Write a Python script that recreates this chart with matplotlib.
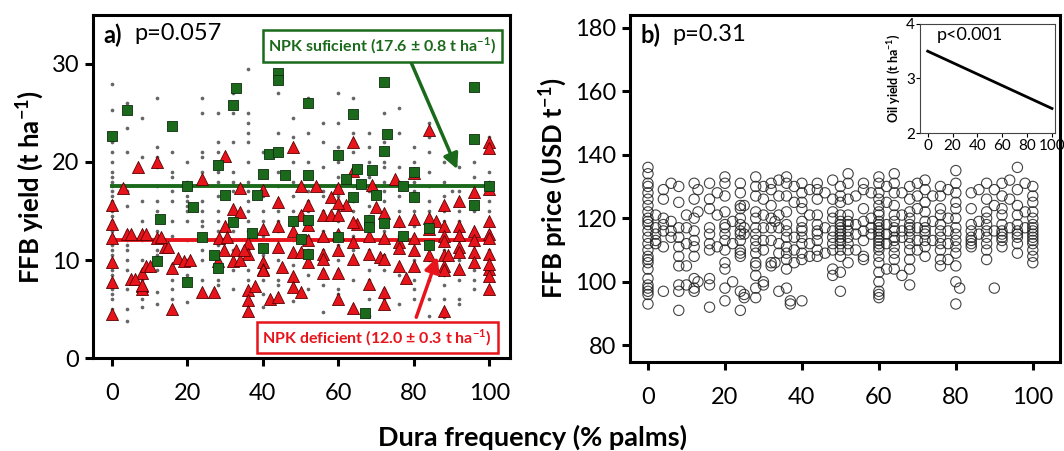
import matplotlib
matplotlib.use("Agg")
import matplotlib.pyplot as plt

plt.rcParams['font.family'] = ['Lato', 'DejaVu Sans']
plt.rcParams['axes.unicode_minus'] = False
plt.rcParams['mathtext.fontset'] = 'custom'
plt.rcParams['mathtext.rm'] = 'Lato'
plt.rcParams['mathtext.bf'] = 'Lato:bold'

# ---- panel a: FFB yield vs dura frequency ----
# NPK sufficient plots (green squares)
suf_x = [0, 4, 16, 20, 28, 33, 32, 40, 41.7, 44, 44, 44, 46, 52, 52, 60, 62, 64, 65, 66,
         69, 70, 72, 72, 73, 77, 80, 80, 96, 96, 100, 38.5, 30, 64,
         21.5, 12.7, 32, 37, 48, 52, 68, 68, 72, 77, 84, 84, 60, 50, 52, 40,
         24, 12, 27, 28, 20, 67, 96]
suf_y = [22.6, 25.3, 23.7, 17.5, 19.7, 27.5, 25.8, 18.8, 20.8, 21, 29.1, 28.4, 18.7, 26, 18.7,
         20.7, 18.3, 24.9, 19.3, 17.8, 19.2, 16.6, 21.1, 28.2, 22.9, 17.5, 19, 16.4, 27.6, 22.3,
         17.5, 16.6, 16.6, 16.4,
         15.4, 14.2, 13.9, 12.8, 14, 14.1, 14.1, 13.4, 13.8, 12.5, 13.3, 11.5, 12.3, 12.1, 10.6,
         11.2, 12.3, 9.9, 10.5, 9.2, 7.8, 4.6, 15.6]

# NPK deficient plots (red triangles)
def_x = [0, 0, 0, 0, 0, 0, 4, 3, 5, 8, 8, 8, 8, 9, 12, 12, 14, 16, 16, 17.5, 19,
         24, 27, 28.5, 28, 30, 32, 32, 33, 36, 36, 36, 36, 36, 38, 40, 40, 40, 42,
         44, 44, 44, 45, 48, 48, 48, 48, 50, 50, 50, 52, 52, 52, 56, 56, 56, 58,
         60, 60, 60, 60, 60, 62, 64, 64, 64, 65, 68, 68, 70, 71, 72, 72, 72, 72,
         76, 76, 76, 78, 80, 80, 80, 84, 84, 84, 86, 88, 88, 88, 88, 88, 88, 88, 89,
         92, 92, 92, 92, 96, 96, 96, 96, 100, 100, 100, 100, 100, 100, 100,
         7, 24, 30, 40, 48, 50, 54, 58, 60, 64, 64, 69, 75, 80, 84, 92, 96,
         100, 100, 100, 5, 9, 13, 15, 10, 6, 8, 20.7, 34, 34, 34, 35, 29.7, 30.5,
         56, 60, 64, 68, 72, 76, 80, 88, 92, 100, 44, 40, 52, 56]
def_y = [15.6, 13.7, 12.2, 9.8, 7.8, 4.5, 12.7, 17.3, 8.1, 12.7, 8.7, 7.4, 7, 9.4, 12.2, 20,
         11.3, 9.2, 5, 10.2, 9.9,
         6.7, 6.7, 12.2, 9.9, 13.5, 15.2, 9.9, 11, 11.7, 10.6, 6.9, 5.9, 4.8, 7.4, 9.8, 9.1, 9,
         6, 13.5, 11.3, 6.2, 9.3, 13, 10.8, 8.4, 7.2, 14.6, 10.8, 6.7, 15.6, 12, 9.8, 14.6,
         10.6, 10.1, 14.6, 14.6, 12.7, 11, 8.7, 6, 15.6, 11.8, 10.1, 5.1, 13.7, 7.6, 10.6, 15.4,
         10.3, 14.8, 10.1, 6.7, 5.5, 14, 11.8, 9.4, 8.2, 12.2, 11, 9.4, 14.3, 13.2, 10.5, 14,
         15.6, 13.5, 12.5, 10.5, 9.4, 9, 4.8, 10.5, 13.5, 11.3, 10.8, 9.1, 13, 12, 10.8, 9.8,
         14, 12.7, 12.2, 10.6, 9.1, 8.4, 7,
         19.5, 18.3, 20.6, 17.1, 21.5, 17.6, 17.6, 16.4, 17.3, 22, 19.1, 17.7, 18.3, 18.9,
         23.3, 16, 16.9, 22, 21.4, 17.2, 12.7, 12.7, 12.3, 11.3, 9.4, 8.1, 7.5, 10, 17.3,
         14.9, 10, 11, 11, 12.3,
         12.4, 15.8, 13.9, 12.5, 12.2, 11.2, 14.2, 11.9, 12.6, 9.6, 15.9, 13.2, 13.6, 8.7]

# all other plots (small grey dots), one list of yields per column
dot_cols = [0, 4, 8, 12, 16, 20, 24, 28, 32, 36, 40, 44, 48, 52, 56, 60, 64, 68, 72, 76,
            80, 84, 88, 90, 92, 96, 100]
dot_vals = [
    [28, 25.3, 22, 21, 20, 19, 18.5, 18, 17.5, 17, 16.5, 16, 15, 14.5, 14, 13, 12.5, 12, 11.5,
     11, 10.5, 10, 9.5, 9, 8.5, 8, 7, 6.5, 6, 5],
    [26, 23.5, 21, 17, 15.5, 13, 12, 11.5, 11, 10, 9, 7, 5, 3.8],
    [24.5, 20.5, 16, 14, 12, 10, 8, 6, 5.2],
    [26.5, 21.5, 20.5, 19.5, 17.5, 16, 15, 13, 11, 10.5, 9, 6.7, 5.5],
    [21, 19, 18.5, 17, 16, 14, 12.5, 9.5, 8, 7, 6],
    [20, 18, 16.5, 16, 15.5, 15, 14, 12, 10, 8.5, 5.7],
    [26.5, 25, 21, 20.5, 19, 16, 15, 14, 13.5, 11, 10, 8],
    [25, 22, 21, 20, 19, 18, 16.5, 15, 14, 13, 11.5, 10.5, 9, 8, 7.5],
    [27, 25, 22, 19, 18, 17, 15, 13, 12, 11, 9, 7],
    [29.5, 25, 24, 23, 22, 20, 18, 17, 16, 15, 14, 13, 12, 11, 9, 8, 6],
    [21, 19, 17.5, 16.5, 15, 14, 13, 12.5, 11.5, 10.5, 10, 9, 8, 6.5, 5.2],
    [27, 23, 21, 19, 17.5, 16, 15, 14, 13, 11.5, 10, 8, 7.5],
    [24.5, 22.5, 20, 18, 16.5, 15, 14, 13, 12, 10.5, 9.5, 7, 5.8],
    [26.5, 23, 20, 18.5, 17, 16, 15, 13.5, 12.5, 11, 9.5, 8.5, 7],
    [24, 22, 19.5, 17, 16.5, 15, 13, 12, 11, 10, 9, 7.5, 4.7],
    [27, 24, 21.5, 20, 18.5, 17, 16.5, 15.5, 15, 14, 13, 11.5, 10, 9, 7, 6.5],
    [26.5, 23, 21, 19, 17.5, 16, 15, 14, 12.5, 11, 10, 8, 5],
    [23, 21.5, 20, 18.5, 17, 15.5, 14.5, 13, 12, 11, 9, 8, 6, 4.3],
    [25, 22, 20, 19.5, 18, 17, 16, 14.5, 13, 12, 10.5, 9, 7, 6],
    [25.5, 23, 19.5, 18, 16.5, 15, 13.5, 12.5, 11, 9.5, 8.5, 5.5],
    [21.5, 20, 18, 17, 16.5, 15, 13.5, 12.5, 11, 10, 8, 7, 6],
    [24, 22.5, 21, 19, 17.5, 16, 15, 14, 12, 10, 8, 6, 4.3],
    [20, 18, 16.5, 15, 14, 13, 12, 11, 10, 9, 8.5, 7.5, 6, 4.2],
    [3.5, 17],
    [19.5, 17, 15, 14, 13, 12, 11, 10, 9, 8, 6, 5.5],
    [20, 18.5, 17, 15, 13, 11.5, 10, 9, 8, 7],
    [22.5, 21, 19, 18, 17, 16, 15, 14, 13, 12, 11, 10, 9, 8, 7],
]

suf_mean = 17.6
def_mean = 12.0

# ---- panel b: FFB price vs dura frequency, one list of prices per column ----
price_cols = [0, 2, 4, 6, 8, 10, 12, 13, 16, 18, 20, 22, 24, 25, 28, 30, 32, 33, 34, 36, 37,
              38, 40, 42, 44, 46, 48, 50, 52, 54, 56, 58, 60, 62, 64, 66, 68, 70, 72, 74,
              76, 78, 80, 81, 84, 86, 88, 90, 92, 94, 96, 98, 100]
price_vals = [
    [136, 134, 131, 130, 128, 126, 124, 122, 120, 119, 118, 116, 114, 112, 110, 108, 107,
     106, 104, 101, 99, 98, 97, 96, 93],
    [121, 117, 115, 113, 112],
    [129, 126, 120, 118, 116, 111, 97],
    [131, 119, 116, 114],
    [130, 125, 117, 114, 111, 108, 105, 99, 97, 91],
    [121, 117, 112, 105, 99],
    [131, 126, 120, 116, 113, 111, 108, 101, 98, 97],
    [129, 122, 100],
    [131, 126, 123, 117, 115, 112, 110, 101, 99, 92],
    [128, 121, 111],
    [133, 131, 127, 122, 118, 117, 115, 113, 110, 106, 104, 98, 94],
    [119, 112, 100],
    [131, 128, 124, 123, 120, 118, 116, 115, 113, 110, 109, 108, 97, 91],
    [124, 117, 115, 96, 95],
    [133, 130, 127, 122, 120, 117, 115, 113, 111, 109, 106, 105, 102, 98, 95],
    [130, 126, 121, 117, 113, 110, 100, 99],
    [131, 129, 124, 120, 117, 113, 106, 105],
    [119, 106],
    [132, 127, 121, 117, 112, 109, 97],
    [133, 131, 127, 122, 118, 116, 114, 111, 109, 107, 104, 98],
    [93, 94],
    [130, 125, 114, 110, 106],
    [131, 128, 125, 123, 119, 117, 116, 114, 112, 109, 107, 94],
    [129, 121, 112, 108],
    [131, 129, 126, 121, 118, 116, 115, 113, 110, 108],
    [128, 117, 109],
    [132, 126, 122, 120, 116, 114, 112, 110, 104, 102],
    [130, 127, 125, 121, 119, 118, 117, 116, 115, 114, 113, 112, 110, 108, 103, 97],
    [134, 131, 126, 121, 119, 118, 116, 114, 112, 110, 106],
    [127, 118, 115, 110],
    [131, 129, 123, 119, 116, 113, 108, 107],
    [128, 120, 117, 115],
    [133, 131, 128, 126, 124, 122, 121, 119, 118, 117, 116, 115, 114, 113, 112, 111, 110,
     108, 106, 103, 100, 97, 96, 95],
    [130, 125, 118, 115, 112, 104],
    [134, 131, 128, 124, 121, 119, 117, 116, 114, 113, 111, 109, 107, 104],
    [128, 121, 116, 114, 102],
    [130, 126, 122, 120, 118, 117, 116, 114, 112, 110, 107, 104, 99],
    [131, 127, 123, 117, 113, 110],
    [132, 129, 125, 122, 119, 117, 116, 115, 113, 111, 108],
    [127, 119, 113],
    [130, 127, 123, 121, 118, 116, 114, 112, 110, 107, 105],
    [129, 120, 116, 112, 107],
    [135, 131, 128, 125, 123, 120, 117, 115, 113, 111, 109, 105, 100, 93],
    [98],
    [128, 123, 118, 116, 114, 113, 112, 111],
    [129, 119, 115],
    [131, 126, 122, 120, 118, 116, 114, 112, 110, 107],
    [129, 124, 116, 98],
    [131, 127, 123, 121, 118, 116, 115, 114, 113, 111],
    [132, 126, 117],
    [136, 129, 124, 121, 118, 116, 115, 114, 112, 109],
    [131, 122, 117],
    [130, 127, 125, 122, 120, 118, 117, 116, 115, 114, 113, 112, 110, 108, 106],
]

# inset: oil yield trend
oil_x = [0, 100]
oil_y = [3.5, 2.45]

xticks = [0, 20, 40, 60, 80, 100]
green = '#1b6a1b'
red = '#e8141c'

fig = plt.figure(figsize=(10.64, 4.51), dpi=100)
ax1 = fig.add_axes([0.0874, 0.206, 0.392, 0.761])
ax2 = fig.add_axes([0.592, 0.197, 0.404, 0.770])
ax3 = fig.add_axes([0.865, 0.705, 0.1265, 0.242])


def style_axis(ax):
    for s in ax.spines.values():
        s.set_linewidth(2.2)
        s.set_color('black')
    ax.tick_params(axis='both', which='major', direction='out', length=6, width=2.2,
                   labelsize=17, colors='black', pad=4)
    ax.tick_params(axis='x', pad=12)


# panel a
for cx, vals in zip(dot_cols, dot_vals):
    ax1.scatter([cx] * len(vals), vals, s=7, color='#666666', zorder=2, linewidths=0)
ax1.plot([0, 100], [suf_mean, suf_mean], color=green, lw=2.8, zorder=3)
ax1.plot([0, 100], [def_mean, def_mean], color=red, lw=2.8, zorder=3)
ax1.scatter(def_x, def_y, marker='^', s=75, color=red, edgecolors='#5a0000',
            linewidths=0.6, zorder=4)
ax1.scatter(suf_x, suf_y, marker='s', s=62, color=green, edgecolors='#0d2d0d',
            linewidths=0.6, zorder=5)
ax1.set_xlim(-5, 105.5)
ax1.set_ylim(0, 35)
ax1.set_xticks(xticks)
ax1.set_yticks([0, 10, 20, 30])
style_axis(ax1)
ax1.set_ylabel('FFB yield (t ha$^{\\mathbf{-1}}$)', fontsize=18.5, fontweight='bold', labelpad=4)
ax1.text(0.025, 0.975, 'a)', transform=ax1.transAxes, fontsize=17, fontweight='bold',
         va='top', ha='left')
ax1.text(0.1, 0.975, 'p=0.057', transform=ax1.transAxes, fontsize=17, va='top', ha='left')

ax1.annotate('', xy=(91.8, 19), xytext=(79, 30.4),
             arrowprops=dict(arrowstyle='-|>,head_width=0.45,head_length=0.9',
                             color=green, lw=2.5), zorder=6)
ax1.annotate('', xy=(86.5, 10.6), xytext=(80.4, 3.9),
             arrowprops=dict(arrowstyle='-|>,head_width=0.45,head_length=0.9',
                             color=red, lw=2.5), zorder=6)
ax1.text(71.6, 31.8, 'NPK suficient (17.6 ± 0.8 t ha$^{\\mathbf{-1}}$)', color=green,
         fontsize=11.5, fontweight='bold', ha='center', va='center', zorder=7,
         bbox=dict(boxstyle='square,pad=0.35', fc='white', ec=green, lw=1.8))
ax1.text(70.3, 2.1, 'NPK deficient (12.0 ± 0.3 t ha$^{\\mathbf{-1}}$)', color=red,
         fontsize=11.5, fontweight='bold', ha='center', va='center', zorder=7,
         bbox=dict(boxstyle='square,pad=0.35', fc='white', ec=red, lw=1.8))

# panel b
for cx, vals in zip(price_cols, price_vals):
    ax2.scatter([cx] * len(vals), vals, s=55, facecolors='none', edgecolors='#222222',
                linewidths=0.8, alpha=0.85)
ax2.set_xlim(-4.7, 107)
ax2.set_ylim(74.7, 184)
ax2.set_xticks(xticks)
ax2.set_yticks([80, 100, 120, 140, 160, 180])
style_axis(ax2)
ax2.set_ylabel('FFB price (USD t$^{\\mathbf{-1}}$)', fontsize=18.5, fontweight='bold', labelpad=4)
ax2.text(0.025, 0.975, 'b)', transform=ax2.transAxes, fontsize=17, fontweight='bold',
         va='top', ha='left')
ax2.text(0.1, 0.975, 'p=0.31', transform=ax2.transAxes, fontsize=17, va='top', ha='left')

# inset
ax3.plot(oil_x, oil_y, color='black', lw=2)
ax3.set_xlim(-5.9, 102.4)
ax3.set_ylim(2, 4)
ax3.set_xticks(xticks)
ax3.set_yticks([2, 3, 4])
for s in ax3.spines.values():
    s.set_linewidth(0.8)
    s.set_color('#444444')
ax3.tick_params(direction='out', length=3, width=0.8, labelsize=11, pad=1)
ax3.set_ylabel('Oil yield (t ha$^{\\mathbf{-1}}$)', fontsize=9, fontweight='bold', labelpad=2)
ax3.text(0.12, 0.97, 'p<0.001', transform=ax3.transAxes, fontsize=13, va='top', ha='left')

fig.text(0.5, 0.03, 'Dura frequency (% palms)', fontsize=19.5, fontweight='bold',
         ha='center', va='center')

fig.savefig('out.png', dpi=100)
